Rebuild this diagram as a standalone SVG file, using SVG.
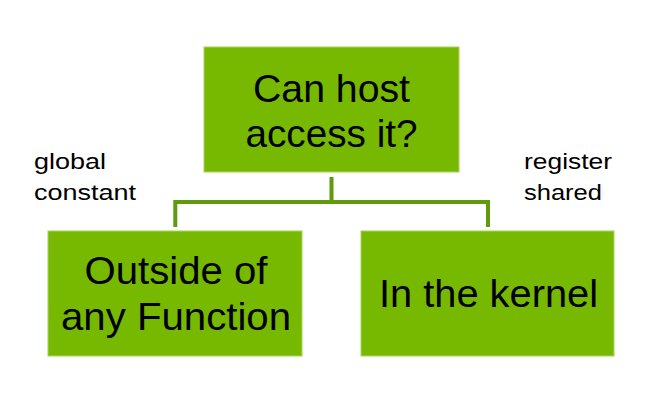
<svg xmlns="http://www.w3.org/2000/svg" width="652" height="407" viewBox="0 0 652 407">
<style>
.box{fill:#76b900;stroke:#a8d45a;stroke-width:1}
.big{font-family:"Liberation Sans",Arial,sans-serif;font-size:39px;fill:#000;text-anchor:middle}
.small{font-family:"Liberation Sans",Arial,sans-serif;font-size:22px;fill:#000}
.conn{fill:none;stroke:#5f9b0a;stroke-width:4}
</style>
<rect width="652" height="407" fill="#fff"/>
<g id="connectors">
<path class="conn" d="M331.5,177 V202"/>
<path class="conn" d="M175.3,227 V202 H488 V227"/>
</g>
<g id="root">
<rect class="box" x="204" y="47" width="255" height="125"/>
<text class="big" x="331.5" y="102" textLength="157" lengthAdjust="spacingAndGlyphs">Can host</text>
<text class="big" x="331.5" y="147" textLength="172" lengthAdjust="spacingAndGlyphs">access it?</text>
</g>
<g id="outside">
<rect class="box" x="48" y="231" width="254" height="125"/>
<text class="big" x="176" y="284" textLength="183" lengthAdjust="spacingAndGlyphs">Outside of</text>
<text class="big" x="176" y="330" textLength="230" lengthAdjust="spacingAndGlyphs">any Function</text>
</g>
<g id="kernel">
<rect class="box" x="361" y="231" width="253" height="125"/>
<text class="big" x="488.5" y="307" textLength="219" lengthAdjust="spacingAndGlyphs">In the kernel</text>
</g>
<g id="label-left">
<text class="small" x="34" y="169" textLength="72" lengthAdjust="spacingAndGlyphs">global</text>
<text class="small" x="34" y="200" textLength="102" lengthAdjust="spacingAndGlyphs">constant</text>
</g>
<g id="label-right">
<text class="small" x="524" y="169" textLength="88" lengthAdjust="spacingAndGlyphs">register</text>
<text class="small" x="524" y="200" textLength="78" lengthAdjust="spacingAndGlyphs">shared</text>
</g>
</svg>
